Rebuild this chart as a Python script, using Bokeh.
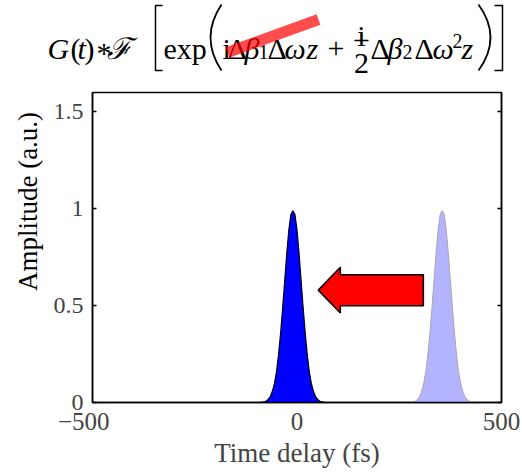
import math
from bokeh.plotting import figure
from bokeh.models import Range1d, FixedTicker, LinearAxis
from bokeh.layouts import column, row
from bokeh.core.properties import value
from bokeh.embed import file_html
from bokeh.resources import INLINE

FONT = "Liberation Serif"

# ---------------- data ----------------
x_ticks = [-500, 0, 500]
x_tick_labels = ["\u2212500\u2002\u2009", "0", "500"]   # digits centred on the tick, as in the reference
y_ticks = [0, 0.5, 1, 1.5]
y_tick_labels = ["0", "0.5", "1", "1.5"]

x_title = "Time delay (fs)"
y_title = "Amplitude (a.u.)"

# compressed pulse (dark blue, near zero delay)
compressed_time = [-90, -80, -75, -70, -65, -60, -55, -50, -45, -40, -35, -30, -25, -20,
                   -15, -10, -5, 0, 5, 10, 15, 20, 25, 30, 35, 40, 45, 50, 55, 60, 70]
compressed_amp = [0.0, 0.004, 0.008, 0.017, 0.032, 0.059, 0.10, 0.16, 0.25, 0.36, 0.49,
                  0.63, 0.77, 0.89, 0.97, 0.99, 0.97, 0.89, 0.77, 0.63, 0.49, 0.36, 0.25,
                  0.16, 0.10, 0.059, 0.032, 0.017, 0.008, 0.004, 0.0]

# delayed (uncompensated) pulse (light blue)
delayed_time = [275, 285, 290, 295, 300, 305, 310, 315, 320, 325, 330, 335, 340, 345,
                350, 355, 360, 365, 370, 375, 380, 385, 390, 395, 400, 405, 410, 415,
                420, 425, 435]
delayed_amp = [0.0, 0.004, 0.008, 0.017, 0.032, 0.059, 0.10, 0.16, 0.25, 0.36, 0.49,
               0.63, 0.77, 0.89, 0.97, 0.99, 0.97, 0.89, 0.77, 0.63, 0.49, 0.36, 0.25,
               0.16, 0.10, 0.059, 0.032, 0.017, 0.008, 0.004, 0.0]

# block arrow (data units)
arrow_tail_x = 309
arrow_neck_x = 106
arrow_tip_x = 52
arrow_center_y = 0.58
arrow_body_half = 0.08
arrow_head_half = 0.118

# ---------------- page geometry ----------------
W, HGT = 522, 474
H_TOP = 86          # formula strip height
W_LEFT = 46         # y-title strip width
FL, FR, FT, FB = 92, 501, 92, 402   # plot frame edges (page px)

# ---------------- formula header (pixel coordinates, y downward) ----------------
f = figure(width=W, height=H_TOP, x_range=Range1d(0, W), y_range=Range1d(H_TOP, 0),
           output_backend="svg", toolbar_location=None, min_border=0,
           x_axis_location=None, y_axis_location=None)
f.grid.visible = False
f.outline_line_color = None

BASE = 48
normal = [("(", 70, BASE), (")", 84, BASE), ("*", 96, 52), ("exp", 163, BASE),
          ("i", 222, BASE), ("\u0394", 227, BASE), ("\u0394", 267, BASE), ("+", 327, BASE),
          ("\u0394", 370, BASE), ("\u0394", 414, BASE)]
italic = [("G", 47, BASE), ("t", 77, BASE), ("\u2131", 106, BASE), ("\u03b2", 244, BASE),
          ("\u03c9", 284, BASE), ("z", 306, BASE), ("\u03b2", 387, BASE), ("\u03c9", 432, BASE),
          ("z", 461, BASE)]
small = [("1", 258, 51), ("2", 402, 51), ("2", 452, 40)]
frac = [("i", 361, 35), ("2", 361, 63)]

def put(items, size, style, align="left"):
    f.text(x=[i[1] for i in items], y=[i[2] for i in items], text=[i[0] for i in items],
           text_font=value(FONT), text_font_size=value(size), text_font_style=value(style),
           text_align=value(align), text_baseline=value("alphabetic"), text_color="black")

put(normal, "30px", "normal")
put(italic, "30px", "italic")
put(small, "20px", "normal")
put(frac, "30px", "normal", "center")
f.line(x=[354, 368], y=[40, 40], line_color="black", line_width=1.3)
f.multi_line(xs=[[162, 155, 155, 162], [494, 502, 502, 494]],
             ys=[[5, 5, 70, 70], [5, 5, 70, 70]], line_color="black", line_width=1.5)
f.quadratic(x0=[221, 478], y0=[4, 4], x1=[221, 478], y1=[70, 70],
            cx=[199, 502], cy=[37, 37], line_color="black", line_width=1.8)
f.line(x=[227, 318], y=[52, 19], line_color="red", line_alpha=0.7, line_width=11)

# ---------------- y-title strip ----------------
H_MAIN = HGT - H_TOP
g = figure(width=W_LEFT, height=H_MAIN, x_range=Range1d(0, W_LEFT), y_range=Range1d(0, H_MAIN),
           output_backend="svg", toolbar_location=None, min_border=0,
           x_axis_location=None, y_axis_location=None)
g.grid.visible = False
g.outline_line_color = None
g.text(x=[27], y=[H_MAIN - (201 - H_TOP)], text=[y_title], angle=math.pi / 2,
       text_font=value(FONT), text_font_size=value("27px"), text_align=value("center"),
       text_baseline=value("middle"), text_color="black")

# ---------------- main plot ----------------
p = figure(width=W - W_LEFT, height=H_MAIN, x_range=Range1d(-500, 500), y_range=Range1d(0, 1.6),
           output_backend="svg", toolbar_location=None,
           min_border_left=FL - W_LEFT, min_border_right=W - FR,
           min_border_top=FT - H_TOP, min_border_bottom=HGT - FB)
p.grid.visible = False
p.outline_line_color = "black"
p.outline_line_width = 1.5

p.patch(delayed_time, delayed_amp, fill_color="#b3b3ff", line_color="#a8a8a8", line_width=1)
p.patch(compressed_time, compressed_amp, fill_color="#0000ff", line_color="black", line_width=1.2)

ax = [arrow_tip_x, arrow_neck_x, arrow_neck_x, arrow_tail_x, arrow_tail_x, arrow_neck_x, arrow_neck_x]
ay = [arrow_center_y, arrow_center_y + arrow_head_half, arrow_center_y + arrow_body_half,
      arrow_center_y + arrow_body_half, arrow_center_y - arrow_body_half,
      arrow_center_y - arrow_body_half, arrow_center_y - arrow_head_half]
p.patch(ax, ay, fill_color="red", line_color="black", line_width=1.5)

xa = p.xaxis[0]
xa.ticker = FixedTicker(ticks=x_ticks)
xa.major_label_overrides = dict(zip(x_ticks, x_tick_labels))
xa.major_tick_in = 0
xa.major_tick_out = 0
xa.minor_tick_line_color = None
xa.axis_line_width = 1.5
xa.axis_label = x_title
xa.axis_label_text_font = FONT
xa.axis_label_text_font_style = "normal"
xa.axis_label_text_font_size = "27px"
xa.axis_label_standoff = 0
xa.major_label_text_font = FONT
xa.major_label_text_font_size = "25px"
xa.major_label_standoff = 5

ya = p.yaxis[0]
ya.ticker = FixedTicker(ticks=y_ticks)
ya.major_label_overrides = dict(zip(y_ticks, y_tick_labels))
ya.major_tick_in = 4
ya.major_tick_out = 0
ya.major_tick_line_width = 1.5
ya.minor_tick_line_color = None
ya.axis_line_width = 1.5
ya.major_label_text_font = FONT
ya.major_label_text_font_size = "24px"
ya.major_label_standoff = 9

ra = LinearAxis(ticker=FixedTicker(ticks=y_ticks), major_tick_in=4, major_tick_out=0,
                major_tick_line_width=1.5, minor_tick_line_color=None, axis_line_width=1.5,
                major_label_text_color=None, major_label_standoff=0)
p.add_layout(ra, "right")

layout = column(row(f), row(column(g), column(p)))
open("out.html", "w").write(file_html(layout, INLINE))
